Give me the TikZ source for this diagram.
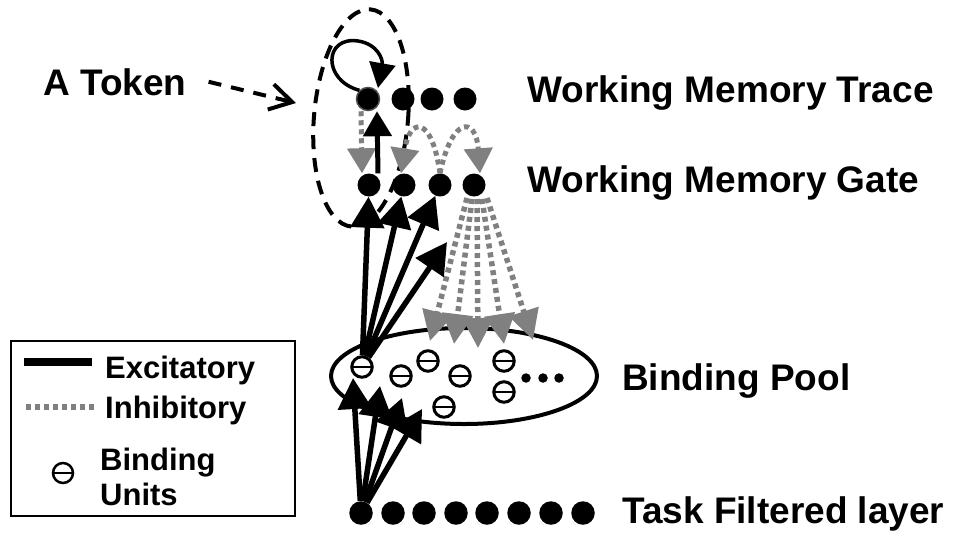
\documentclass[tikz,border=0pt]{standalone}
\usepackage{fontspec}
\setmainfont{Liberation Sans}
\usetikzlibrary{arrows.meta,calc,shapes.geometric}
\definecolor{inhgray}{RGB}{128,128,128}
\begin{document}
\begin{tikzpicture}[x=1pt,y=-1pt,
  dotn/.style={circle,fill=black,inner sep=0pt,minimum size=23pt},
  tdot/.style={circle,fill=black,inner sep=0pt,minimum size=23.5pt},
  edot/.style={circle,fill=black,inner sep=0pt,minimum size=9.5pt},
  bunit/.style={circle,draw,line width=3pt,fill=white,inner sep=0pt,minimum size=20.5pt,
    path picture={\draw[line width=2.2pt] (path picture bounding box.west) -- (path picture bounding box.east);}},
  lbl/.style={font=\fontsize{37}{44}\selectfont\bfseries,inner sep=0pt,anchor=base west},
  leg/.style={font=\fontsize{31}{37}\selectfont\bfseries,inner sep=0pt,anchor=base west},
  exc/.style={line width=5.5pt,-{Triangle[length=31pt,width=33pt]}},
  excs/.style={line width=5pt,-{Triangle[length=25pt,width=28pt]}},
  inh/.style={draw=inhgray,line width=5.5pt,dash pattern=on 5pt off 4pt,-{Triangle[length=30pt,width=30pt,fill=inhgray]}},
  inhs/.style={draw=inhgray,line width=5pt,dash pattern=on 5pt off 4pt,-{Triangle[length=25pt,width=28pt,fill=inhgray]}},
]
\useasboundingbox (0,0) rectangle (954,542);

% binding pool
\node[ellipse,draw,line width=4pt,minimum width=266pt,minimum height=96pt,inner sep=0pt] (pool) at (464,376) {};

% token ellipse
\node[ellipse,draw,line width=4pt,dash pattern=on 14pt off 9pt,minimum width=94pt,minimum height=218pt,inner sep=0pt,rotate=-5] (tokell) at (361,118) {};

% working memory trace
\node[dotn,draw=inhgray!60!black,line width=1.5pt] (w1) at (368,99) {};
\node[dotn] (w2) at (403,99) {};
\node[dotn] (w3) at (432,99) {};
\node[dotn] (w4) at (465,99) {};

% working memory gate
\node[dotn] (g1) at (369,185) {};
\node[dotn] (g2) at (404,185) {};
\node[dotn] (g3) at (440,185) {};
\node[dotn] (g4) at (474,185) {};

% binding units
\node[bunit] (bu1) at (362,367) {};
\node[bunit] (bu2) at (401,376) {};
\node[bunit] (bu3) at (428,361) {};
\node[bunit] (bu4) at (460,376) {};
\node[bunit] (bu5) at (444,407) {};
\node[bunit] (bu6) at (504,361) {};
\node[bunit] (bu7) at (504,392) {};
\node[edot] (e1) at (526,378) {};
\node[edot] (e2) at (543,378) {};
\node[edot] (e3) at (559,378) {};

% task filtered layer
\foreach \i/\x in {1/361,2/393,3/424,4/456,5/487,6/519,7/551,8/583}
  \node[tdot] (t\i) at (\x,513) {};

% free ends
\coordinate (tp1) at (353,378);
\coordinate (tp2) at (380,386);
\coordinate (tp3) at (402,398);
\coordinate (tp4) at (422,409);
\coordinate (ga) at (447,242);
\coordinate (ip1) at (430,341);
\coordinate (ip2) at (454,344);
\coordinate (ip3) at (478,348);
\coordinate (ip4) at (504,344);
\coordinate (ip5) at (533,340);
\coordinate (is1) at (467,198);
\coordinate (is2) at (472,199);
\coordinate (is3) at (477,199);
\coordinate (is4) at (482,199);
\coordinate (is5) at (487,198);

% inhibitory fan
\foreach \k in {1,...,5}
  \draw[inh] (is\k) -- (ip\k);

% excitatory from task layer
\foreach \k in {1,...,4}
  \draw[exc] (t1) -- (tp\k);

% excitatory from binding unit to gate
\draw[exc] (bu1) -- (g1);
\draw[exc] (bu1) -- (g2);
\draw[exc] (bu1) -- (g3);
\draw[exc] (bu1) -- (ga);

% trace <-> gate
\draw[inhs] ([xshift=-7pt]w1.south) -- ([xshift=-7pt]g1.north);
\draw[excs] ([xshift=9pt]g1.north) -- ([xshift=9pt]w1.south);

% inhibitory arcs among gates
\draw[inhs] (g3.north) .. controls (432,116) and (410,116) .. ([xshift=-3pt]g2.north);
\draw[inhs] (g3.north) .. controls (452,116) and (476,116) .. ([xshift=6pt]g4.north);

% self loop
\draw[line width=3.5pt,-{Triangle[length=25pt,width=26pt]}] (w1.north west) .. controls (322,80) and (324,36) .. (358,41) .. controls (378,44) and (383,60) .. (378,88);

% token label
\node[lbl] (token) at (43,95) {A Token};
\coordinate (tokend) at (296,103);
\draw[line width=4pt,dash pattern=on 13pt off 10pt,-{Straight Barb[length=22pt,width=26pt,line width=4pt]}] ([xshift=22pt]token.east) -- (tokend);

% labels
\node[lbl] (ltrace) at (527,102) {Working Memory Trace};
\node[lbl] (lgate) at (527,192) {Working Memory Gate};
\node[lbl] (lpool) at (622,390) {Binding Pool};
\node[lbl] (ltask) at (622,523) {Task Filtered layer};

% legend
\node[draw,line width=2pt,minimum width=284pt,minimum height=175pt,anchor=north west,inner sep=0pt] (legbox) at (10,340) {};
\draw[line width=7.5pt] (24,362) -- (92,362);
\draw[inhgray,line width=5.5pt,dash pattern=on 5pt off 4pt] (26,407) -- (97,407);
\node[leg] (lexc) at (105,378) {Excitatory};
\node[leg] (linh) at (105,418) {Inhibitory};
\node[leg] (lbind) at (100,470) {Binding};
\node[leg] (lunits) at (100,505) {Units};
\node[bunit,line width=2.5pt,minimum size=20pt] (legunit) at (63,473) {};
\end{tikzpicture}
\end{document}
